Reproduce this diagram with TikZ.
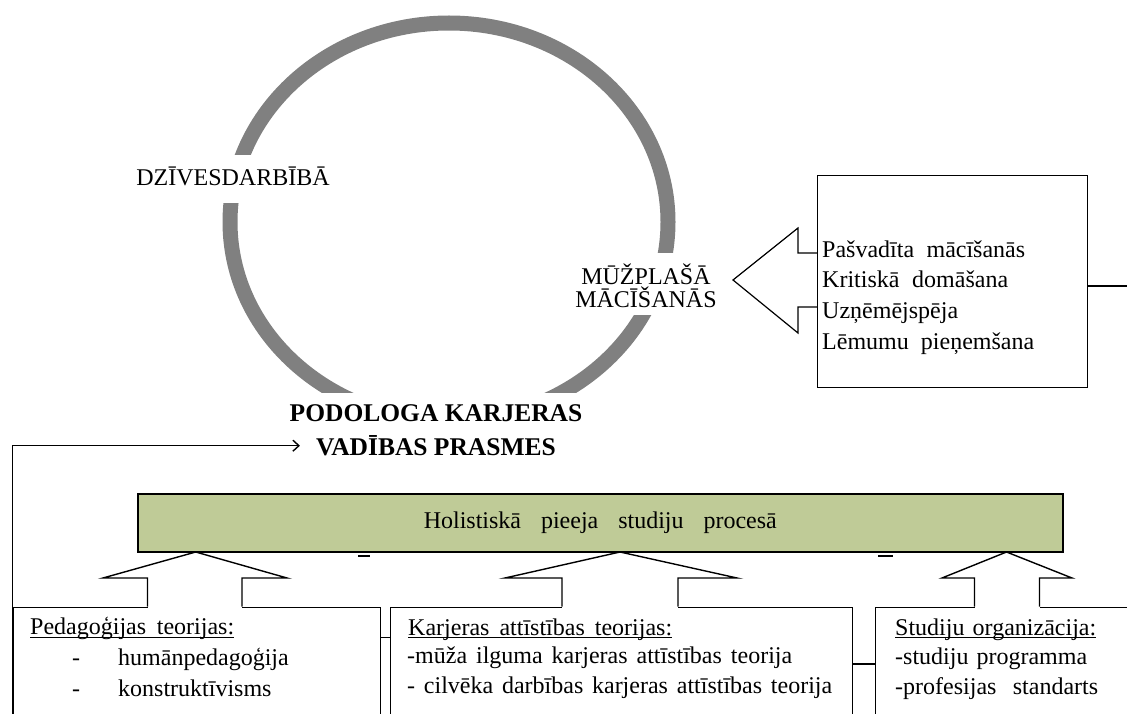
\documentclass[tikz,border=0pt]{standalone}
\usepackage{fontspec}
\setmainfont{Liberation Serif}
\usetikzlibrary{arrows.meta}
\definecolor{ringgray}{RGB}{128,128,128}
\definecolor{holgreen}{RGB}{191,203,151}

\begin{document}
\begin{tikzpicture}[x=1pt,y=-1pt,
  txt/.style={inner sep=0pt, anchor=base west, font=\fontsize{24}{30}\selectfont},
  ringlabel/.style={inner sep=0pt, anchor=base, font=\fontsize{24}{30}\selectfont},
  boldlabel/.style={inner sep=0pt, anchor=base, font=\fontsize{25.5}{34}\selectfont\bfseries},
  frame/.style={draw=black, line width=1.4pt},
  ulineop/.style={draw=black, line width=1pt},
  ring/.style={draw=ringgray, line width=15pt},
  cover/.style={fill=white},
  panel/.style={frame, inner sep=0pt, anchor=north west}]
\useasboundingbox[fill=white] (0,0) rectangle (1127,714);

% the ring of lifelong learning, broken where its three labels sit
\draw[ring] (449,222) ellipse [x radius=219pt, y radius=199pt];
\fill[cover] (200,155) rectangle (262,203);
\fill[cover] (600,253) rectangle (700,315);
\fill[cover] (250,393) rectangle (650,445);

\node[ringlabel] (dz) at (233,186) {DZĪVESDARBĪBĀ};
\node[ringlabel] (mu1) at (646,284) {MŪŽPLAŠĀ};
\node[ringlabel] (mu2) at (646,307.5) {MĀCĪŠANĀS};
\node[boldlabel] (pod1) at (436,421.5) {PODOLOGA KARJERAS};
\node[boldlabel] (pod2) at (436,455.5) {VADĪBAS PRASMES};

% skills box on the right with its block arrow pointing at the ring
\node[panel, minimum width=270pt, minimum height=211.5pt] (skills) at (817,175) {};
\node[txt] (s1) at (822,257) {\makebox[203pt][s]{Pašvadīta mācīšanās}};
\node[txt] (s2) at (822,287.5) {\makebox[186pt][s]{Kritiskā domāšana}};
\node[txt] (s3) at (822,318.5) {Uzņēmējspēja};
\node[txt] (s4) at (822,349) {\makebox[212pt][s]{Lēmumu pieņemšana}};
\draw[frame, line width=1.2pt] (817,253) -- (798,253) -- (798,228) -- (733,280)
  -- (798,333) -- (798,307) -- (817,307);
\draw[frame] ([yshift=-111pt]skills.north east) -- ++(50,0);

% holistic approach bar
\node[panel, line width=1.6pt, fill=holgreen, minimum width=925pt, minimum height=58pt,
  font=\fontsize{24}{30}\selectfont] (hol) at (137,493)
  {\makebox[353pt][s]{Holistiskā pieeja studiju procesā}};
\draw[line width=2pt] (358,556) -- (370,556);
\draw[line width=2pt] (878,555.5) -- (893,555.5);

% three foundation boxes
\node[panel, minimum width=367.5pt, minimum height=160pt] (b1) at (12.5,606.5) {};
\node[panel, minimum width=462pt, minimum height=160pt] (b2) at (390,606.5) {};
\node[panel, minimum width=330pt, minimum height=160pt] (b3) at (875,606.5) {};

% open block arrows rising from the boxes into the bar
\fill[cover] (147.5,609) rectangle (242,600);
\draw[frame] (147.5,606.5) -- (147.5,578) -- (103,578) -- (195.7,552) -- (287,578)
  -- (242,578) -- (242,606.5);
\fill[cover] (562,609) rectangle (678,600);
\draw[frame] (562,606.5) -- (562,578) -- (505,578) -- (620,552) -- (737,578)
  -- (678,578) -- (678,606.5);
\fill[cover] (974.5,609) rectangle (1039.5,600);
\draw[frame] (974.5,606.5) -- (974.5,578) -- (942,578) -- (1006.5,552) -- (1072,578)
  -- (1039.5,578) -- (1039.5,606.5);

\draw[frame] ([yshift=-31.2pt]b1.north east) -- ([yshift=-31.2pt]b2.north west);
\draw[frame] ([yshift=-57.5pt]b2.north east) -- ([yshift=-57.5pt]b3.north west);

% box contents
\node[txt] (p0) at (30,634.5) {\makebox[204pt][s]{Pedagoģijas teorijas:}};
\draw[ulineop] ([yshift=-2.5pt]p0.base west) -- ([yshift=-2.5pt]p0.base east);
\node[txt] (p1) at (72,665) {\makebox[46pt][l]{-}humānpedagoģija};
\node[txt] (p2) at (72,696) {\makebox[46pt][l]{-}konstruktīvisms};

\node[txt] (k0) at (408,635) {\makebox[264pt][s]{Karjeras attīstības teorijas:}};
\draw[ulineop] ([yshift=-2.5pt]k0.base west) -- ([yshift=-2.5pt]k0.base east);
\node[txt] (k1) at (407,663.5) {\makebox[385pt][s]{-mūža ilguma karjeras attīstības teorija}};
\node[txt] (k2) at (407,693.5) {\makebox[425pt][s]{- cilvēka darbības karjeras attīstības teorija}};

\node[txt] (o0) at (895,635) {\makebox[201pt][s]{Studiju organizācija:}};
\draw[ulineop] ([yshift=-2.5pt]o0.base west) -- ([yshift=-2.5pt]o0.base east);
\node[txt] (o1) at (895,664) {\makebox[192pt][s]{-studiju programma}};
\node[txt] (o2) at (895,694) {\makebox[203pt][s]{-profesijas standarts}};

% feedback line from the foundations back to the career skills
\draw[frame, -{Straight Barb[length=6pt,width=11pt]}]
  (b1.south west) |- ([xshift=-16pt]pod2.west);
\end{tikzpicture}
\end{document}
